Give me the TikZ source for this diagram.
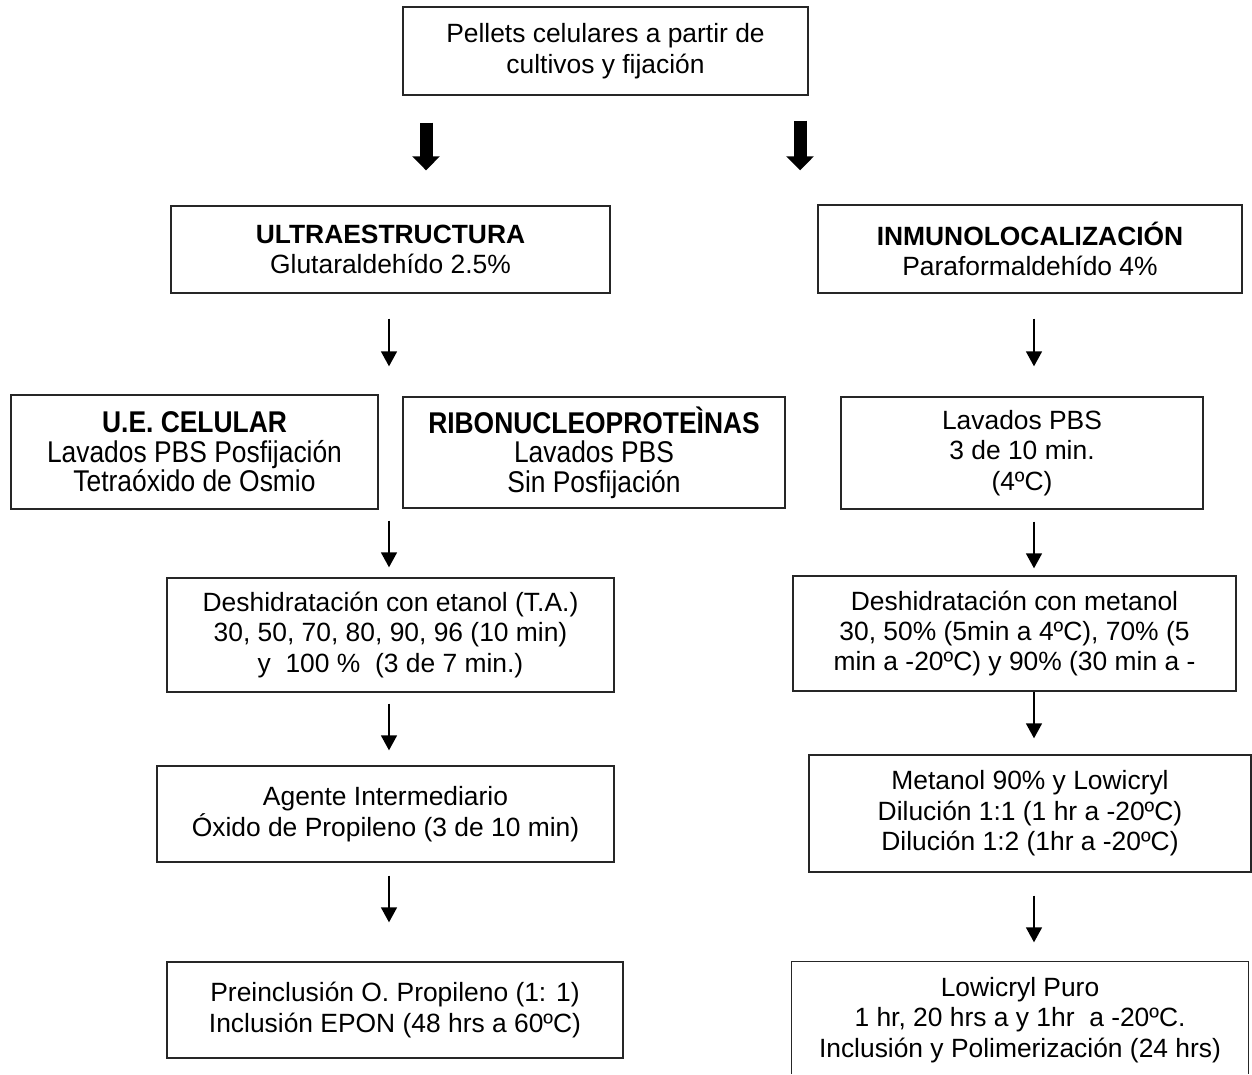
\documentclass[tikz,border=0pt]{standalone}
\usepackage{fontspec}
\setmainfont{Liberation Sans}
\newfontfamily\narrowfont[FakeStretch=0.88]{Liberation Sans}
\usetikzlibrary{arrows.meta}
\begin{document}
\begin{tikzpicture}[x=1pt,y=-1pt,
  box/.style={draw=black!85, line width=1.4pt, inner sep=0pt, align=center,
    font=\fontsize{26.4}{30.4}\selectfont},
  narrowbox/.style={box, font=\narrowfont\fontsize{30}{29.5}\selectfont},
  thinarr/.style={line width=1.6pt, -{Triangle[length=15pt,width=16pt]}},
  thickarr/.style={line width=13pt, -{Triangle[length=14pt,width=27pt]}},
]
\useasboundingbox (0,0) rectangle (1252,1074);

% column guides for the connectors
\coordinate (colL) at (389,0);
\coordinate (colR) at (1034,0);
\coordinate (thL) at (426,0);
\coordinate (thR) at (800,0);
\coordinate (bot) at (0,1074);

% boxes
\node[box, minimum width=405pt, minimum height=88pt] (top) at (605.5,51)
  {Pellets celulares a partir de\\cultivos y fijación};

\node[box, minimum width=439pt, minimum height=87pt] (ultra) at (390.5,249.5)
  {\textbf{ULTRAESTRUCTURA}\\Glutaraldehído 2.5\%};
\node[box, minimum width=424pt, minimum height=88pt] (inmuno) at (1030,249)
  {\textbf{INMUNOLOCALIZACIÓN}\\Paraformaldehído 4\%};

\node[narrowbox, minimum width=367pt, minimum height=114pt] (ue) at (194.5,452)
  {\textbf{U.E. CELULAR}\\Lavados PBS Posfijación\\Tetraóxido de Osmio};
\node[narrowbox, minimum width=382pt, minimum height=111pt] (ribo) at (594,452.5)
  {\textbf{RIBONUCLEOPROTEÌNAS}\\Lavados PBS\\Sin Posfijación};
\node[box, minimum width=362pt, minimum height=112pt] (lav) at (1022,453)
  {Lavados PBS\\3 de 10 min.\\(4ºC)};

\node[box, minimum width=447pt, minimum height=114pt] (etanol) at (390.5,635)
  {Deshidratación con etanol (T.A.)\\30, 50, 70, 80, 90, 96 (10 min)\\y~ 100 \%~ (3 de 7 min.)};
\node[box, minimum width=443pt, minimum height=115pt] (metanol) at (1014.5,633.5)
  {Deshidratación con metanol\\30, 50\% (5min a 4ºC), 70\% (5\\min a -20ºC) y 90\% (30 min a -};

\node[box, minimum width=457pt, minimum height=96pt] (agente) at (385.5,814)
  {Agente Intermediario\\Óxido de Propileno (3 de 10 min)};
\node[box, minimum width=442pt, minimum height=117pt] (met90) at (1030,813.5)
  {Metanol 90\% y Lowicryl\\Dilución 1:1 (1 hr a -20ºC)\\Dilución 1:2 (1hr a -20ºC)};

\node[box, minimum width=456pt, minimum height=96pt] (prein) at (395,1010)
  {Preinclusión O. Propileno (1: 1)\\Inclusión EPON (48 hrs a 60ºC)};
\node[box, draw=none, minimum width=456pt, minimum height=116pt] (low) at (1020,1020)
  {Lowicryl Puro\\1 hr, 20 hrs a y 1hr~ a -20ºC.\\Inclusión y Polimerización (24 hrs)};
\draw[draw=black!85, line width=1.4pt] (low.north west |- bot) -- (low.north west)
  -- (low.north east) -- (low.north east |- bot);

% thick arrows
\draw[thickarr, shorten <=27pt, shorten >=35pt] (top.south -| thL) -- (ultra.north -| thL);
\draw[thickarr, shorten <=25pt, shorten >=34pt] (top.south -| thR) -- (inmuno.north -| thR);

% left column arrows
\draw[thinarr, shorten <=25pt, shorten >=30pt] (ultra.south -| colL) -- (ribo.north -| colL);
\draw[thinarr, shorten <=12pt, shorten >=10pt] (ribo.south -| colL) -- (etanol.north -| colL);
\draw[thinarr, shorten <=11pt, shorten >=15pt] (etanol.south -| colL) -- (agente.north -| colL);
\draw[thinarr, shorten <=13pt, shorten >=39pt] (agente.south -| colL) -- (prein.north -| colL);

% right column arrows
\draw[thinarr, shorten <=25pt, shorten >=30pt] (inmuno.south -| colR) -- (lav.north -| colR);
\draw[thinarr, shorten <=12pt, shorten >=7pt] (lav.south -| colR) -- (metanol.north -| colR);
\draw[thinarr, shorten >=16pt] (metanol.south -| colR) -- (met90.north -| colR);
\draw[thinarr, shorten <=23pt, shorten >=19pt] (met90.south -| colR) -- (low.north -| colR);
\end{tikzpicture}
\end{document}
